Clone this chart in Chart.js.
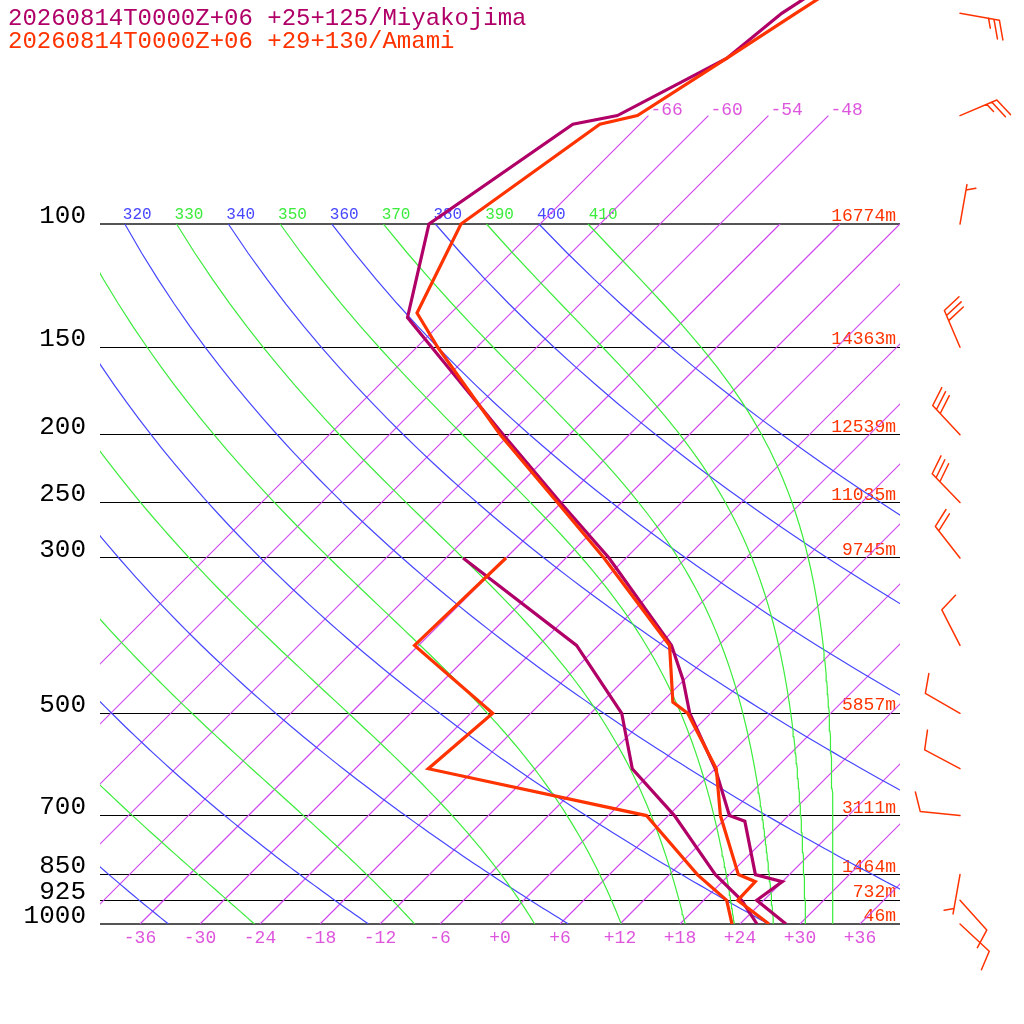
<!DOCTYPE html>
<html>
<head>
<meta charset="utf-8">
<title>Skew-T Miyakojima / Amami</title>
<script src="https://cdn.jsdelivr.net/npm/chart.js@4.4.1/dist/chart.umd.min.js"></script>
<style>
  html, body { margin: 0; padding: 0; background: #fff; }
  canvas { display: block; }
</style>
</head>
<body>
<canvas id="skewt" width="1024" height="1024"></canvas>
<script>
// --- axes / grid values ---
const pLevels = [100, 150, 200, 250, 300, 500, 700, 850, 925, 1000];
const heightLabels = ['16774m', '14363m', '12539m', '11035m', '9745m', '5857m', '3111m', '1464m', '732m', '46m'];
const tempTicks = [-36, -30, -24, -18, -12, -6, 0, 6, 12, 18, 24, 30, 36];
const isotherms = [-66, -60, -54, -48, -42, -36, -30, -24, -18, -12, -6, 0, 6, 12, 18, 24, 30, 36];
const labelledIsotherms = [-66, -60, -54, -48];
const dryThetas = [240, 260, 280, 300, 320, 340, 360, 380, 400];
const moistThetas = [250, 270, 290, 310, 330, 350, 370, 390, 410];
const thetaLabels = [310, 320, 330, 340, 350, 360, 370, 380, 390, 400, 410];

// --- Miyakojima (+25+125) ---
const miyaP  = [1000, 925, 870, 850, 713, 700, 600, 500, 448, 400, 300, 250, 200, 150, 136, 100, 72, 70, 58, 50, 40];
const miyaT  = [28.6, 23.3, 24.0, 20.6, 14.2, 12.1, 6.0, -2.1, -6.1, -10.7, -25.7, -36.1, -48.6, -64.5, -69.9, -77.1, -72.7, -69.1, -63.9, -62.9, -59.2];
const miyaTdP = [1000, 925, 850, 700, 600, 500, 400, 300];
const miyaTd  = [25.7, 21.8, 16.6, 6.6, -2.3, -8.9, -20.2, -40.3];

// --- Amami (+29+130) ---
const amamiP  = [1000, 925, 870, 850, 700, 600, 500, 482, 400, 300, 250, 200, 150, 134, 100, 72, 70, 58, 50, 40];
const amamiT  = [26.9, 21.4, 21.3, 18.9, 11.2, 6.1, -2.3, -4.9, -10.9, -26.2, -36.4, -48.9, -63.9, -69.4, -73.9, -70.0, -67.1, -63.9, -61.5, -57.7];
const amamiTdP = [1000, 925, 850, 700, 600, 500, 400, 300];
const amamiTd  = [23.2, 20.3, 14.8, 3.8, -22.7, -21.8, -36.4, -36.0];

// --- winds (Amami) ---
const windP   = [50, 70, 100, 150, 200, 250, 300, 400, 500, 600, 700, 850, 925, 1000];
const windDir = [100, 67, 10, 337, 317, 316, 322, 333, 300, 298, 276, 190, 138, 133];
const windKt  = [25, 25, 5, 30, 30, 30, 20, 10, 10, 10, 10, 5, 10, 10];

const SKEW = 30.4;        // deg C of shift per unit of ln(p)
const P_TOP = 47.86;
const WIND_X = 46;        // x value of the barb column
const PURPLE = '#b00068', RED = '#ff3300';
const ISO_COL = 'rgb(208, 70, 238)', ISO_TXT = 'rgb(221, 85, 221)';
const DRY_COL = 'rgb(70, 70, 255)', MOIST_COL = 'rgb(60, 236, 60)';
const FONT = '"Liberation Mono", "DejaVu Sans Mono", monospace';

function skewX(t, p) { return t + SKEW * Math.log(1000 / p); }
function profile(ps, ts) { return ps.map((p, i) => ({ x: skewX(ts[i], p), y: p })); }

const curveP = [];
for (let p = 1000; p >= 100; p -= 10) curveP.push(p);

function dryT(theta, p) { return theta * Math.pow(p / 1000, 0.286) - 273.15; }
function satTheta(tk, p) {
    const tc = tk - 273.15;
    const es = 6.112 * Math.exp(17.67 * tc / (tc + 243.5));
    if (es > 0.8 * p) return Infinity;
    const rs = 0.622 * es / (p - es);
    return tk * Math.pow(1000 / p, 0.286) * Math.exp(2660 * rs / tk);
}
function moistT(thetaE, p) {
    let lo = 150, hi = 340;
    for (let i = 0; i < 50; i++) {
        const mid = (lo + hi) / 2;
        if (satTheta(mid, p) > thetaE) hi = mid; else lo = mid;
    }
    return (lo + hi) / 2 - 273.15;
}

const line = (data, color, width, order) => ({
    data, borderColor: color, backgroundColor: color, borderWidth: width,
    pointRadius: 0, showLine: true, fill: false, order
});
const datasets = [
    line(profile(amamiP, amamiT), RED, 3.2, 0),
    line(profile(amamiTdP, amamiTd), RED, 3.2, 0),
    line(profile(miyaP, miyaT), PURPLE, 3.2, 1),
    line(profile(miyaTdP, miyaTd), PURPLE, 3.2, 1)
];
isotherms.forEach(t => {
    const top = labelledIsotherms.includes(t) ? 70 : 100;
    datasets.push(line([{ x: skewX(t, 1000), y: 1000 }, { x: skewX(t, top), y: top }], ISO_COL, 1.2, 4));
});
dryThetas.forEach(th => datasets.push(line(curveP.map(p => ({ x: skewX(dryT(th, p), p), y: p })), DRY_COL, 1.2, 3)));
moistThetas.forEach(th => datasets.push(line(curveP.map(p => ({ x: skewX(moistT(th, p), p), y: p })), MOIST_COL, 1.2, 2)));

// text under the lines
const labelsPlugin = {
    id: 'labels',
    beforeDatasetsDraw(chart) {
        const { ctx, chartArea: a, scales: { x, y } } = chart;
        ctx.save();
        ctx.font = '24px ' + FONT;
        ctx.textAlign = 'left'; ctx.textBaseline = 'alphabetic';
        ctx.fillStyle = PURPLE; ctx.fillText('20260814T0000Z+06 +25+125/Miyakojima', 8, 25);
        ctx.fillStyle = RED; ctx.fillText('20260814T0000Z+06 +29+130/Amami', 8, 48);

        ctx.beginPath(); ctx.rect(a.left, a.top, a.right - a.left, a.bottom - a.top); ctx.clip();
        // height labels
        ctx.font = '18px ' + FONT; ctx.textAlign = 'right'; ctx.fillStyle = RED;
        pLevels.forEach((p, i) => ctx.fillText(heightLabels[i], a.right - 4, y.getPixelForValue(p) - 3));
        // isotherm labels
        ctx.textAlign = 'left'; ctx.fillStyle = ISO_TXT;
        labelledIsotherms.forEach(t => ctx.fillText(String(t), x.getPixelForValue(skewX(t, 70)) + 2, y.getPixelForValue(70) - 1));
        // theta labels along 100 hPa
        ctx.font = '16px ' + FONT;
        const y100 = y.getPixelForValue(100);
        thetaLabels.forEach(th => {
            ctx.fillStyle = dryThetas.includes(th) ? DRY_COL : MOIST_COL;
            ctx.fillText(String(th), x.getPixelForValue(skewX(dryT(th, 100), 100)) - 2, y100 - 5);
        });
        ctx.restore();
    }
};

const barbsPlugin = {
    id: 'barbs',
    afterDatasetsDraw(chart) {
        const { ctx, scales: { x, y } } = chart;
        const rot = 70 * Math.PI / 180, step = 5.5;
        ctx.save();
        ctx.strokeStyle = RED; ctx.lineWidth = 1.5; ctx.lineCap = 'round';
        windP.forEach((p, i) => {
            const ax = x.getPixelForValue(WIND_X), ay = y.getPixelForValue(p);
            const d = windDir[i] * Math.PI / 180;
            const ux = Math.sin(d), uy = -Math.cos(d);
            const bx = ux * Math.cos(rot) - uy * Math.sin(rot), by = ux * Math.sin(rot) + uy * Math.cos(rot);
            const tx = ax + 40 * ux, ty = ay + 40 * uy;
            ctx.beginPath(); ctx.moveTo(ax, ay); ctx.lineTo(tx, ty);
            const full = Math.floor(windKt[i] / 10), half = windKt[i] % 10 >= 5;
            let pos = full === 0 ? 1 : 0;
            for (let k = 0; k < full + (half ? 1 : 0); k++) {
                const len = k < full ? 20 : 10;
                const sx = tx - ux * step * pos, sy = ty - uy * step * pos;
                ctx.moveTo(sx, sy); ctx.lineTo(sx + bx * len, sy + by * len);
                pos++;
            }
            ctx.stroke();
        });
        ctx.restore();
    }
};

new Chart(document.getElementById('skewt'), {
    type: 'scatter',
    data: { datasets },
    options: {
        responsive: false, animation: false, devicePixelRatio: 1,
        layout: { padding: { left: 0, right: 124, top: 0, bottom: 0 } },
        plugins: { legend: { display: false }, tooltip: { enabled: false } },
        events: [],
        scales: {
            x: {
                type: 'linear', min: -40, max: 40,
                afterBuildTicks: s => { s.ticks = tempTicks.map(v => ({ value: v })); },
                afterFit: s => { s.height = 100; s.paddingLeft = 0; s.paddingRight = 0; },
                grid: { display: false, drawTicks: false }, border: { display: false },
                ticks: { autoSkip: false, maxRotation: 0, padding: 3, color: ISO_TXT, font: { family: FONT, size: 18 },
                         callback: v => (v >= 0 ? '+' : '') + v }
            },
            y: {
                type: 'logarithmic', reverse: true, min: P_TOP, max: 1000,
                afterBuildTicks: s => { s.ticks = pLevels.map(v => ({ value: v })); },
                afterFit: s => { s.width = 100; s.paddingTop = 0; s.paddingBottom = 0; },
                border: { display: false },
                grid: { drawTicks: false,
                        color: c => (c.tick && (c.tick.value === 100 || c.tick.value === 1000)) ? '#555' : '#000',
                        lineWidth: c => (c.tick && (c.tick.value === 100 || c.tick.value === 1000)) ? 2 : 1 },
                ticks: { padding: 14, labelOffset: -8, color: '#000', font: { family: FONT, size: 26 },
                         callback: v => String(v) }
            }
        }
    },
    plugins: [labelsPlugin, barbsPlugin]
});
</script>
</body>
</html>
